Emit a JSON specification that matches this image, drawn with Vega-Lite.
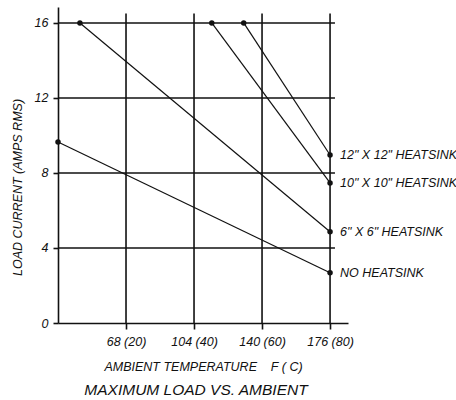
{
  "$schema": "https://vega.github.io/schema/vega-lite/v6.json",
  "autosize": {"type": "none"},
  "width": 290,
  "height": 316,
  "padding": {"left": 58, "top": 7, "right": 108, "bottom": 77},
  "background": "white",
  "config": {
    "view": {"stroke": null},
    "font": "Liberation Sans",
    "axis": {"grid": false, "domainColor": "#111", "domainWidth": 1.6, "tickColor": "#111", "tickWidth": 1.6, "tickSize": 6, "labelFont": "Liberation Sans", "labelFontStyle": "italic", "labelFontSize": 12.5, "labelColor": "#111", "titleFont": "Liberation Sans", "titleFontStyle": "italic", "titleFontWeight": "normal", "titleFontSize": 12.5, "titleColor": "#111"}
  },
  "title": {"text": "MAXIMUM LOAD VS. AMBIENT", "orient": "bottom", "anchor": "middle", "fontSize": 15.5, "fontStyle": "italic", "fontWeight": "normal", "font": "Liberation Sans", "color": "#111", "offset": 10, "dx": -7},
  "datasets": {
    "curves": [
      {"s": "NO HEATSINK", "t": 32, "a": 9.65},
      {"s": "NO HEATSINK", "t": 176, "a": 2.68},
      {"s": "6\" X 6\" HEATSINK", "t": 43.6, "a": 16},
      {"s": "6\" X 6\" HEATSINK", "t": 176, "a": 4.87},
      {"s": "10\" X 10\" HEATSINK", "t": 113.4, "a": 16},
      {"s": "10\" X 10\" HEATSINK", "t": 176, "a": 7.47},
      {"s": "12\" X 12\" HEATSINK", "t": 130.3, "a": 16},
      {"s": "12\" X 12\" HEATSINK", "t": 176, "a": 8.96}
    ],
    "labels": [
      {"s": "NO HEATSINK", "t": 176, "a": 2.68},
      {"s": "6\" X 6\" HEATSINK", "t": 176, "a": 4.87},
      {"s": "10\" X 10\" HEATSINK", "t": 176, "a": 7.47},
      {"s": "12\" X 12\" HEATSINK", "t": 176, "a": 8.96}
    ],
    "vgrid": [
      {"t": 68, "lo": 0, "hi": 16.5},
      {"t": 104, "lo": 0, "hi": 16.5},
      {"t": 140, "lo": 0, "hi": 16.5},
      {"t": 176, "lo": 0, "hi": 16.5}
    ],
    "hgrid": [
      {"a": 4, "lo": 32, "hi": 178.6},
      {"a": 8, "lo": 32, "hi": 178.6},
      {"a": 12, "lo": 32, "hi": 178.6},
      {"a": 16, "lo": 32, "hi": 178.6}
    ]
  },
  "layer": [
    {
      "data": {"name": "vgrid"},
      "mark": {"type": "rule", "color": "#111", "strokeWidth": 1.6},
      "encoding": {
        "x": {"field": "t", "type": "quantitative", "scale": {"domain": [32, 185.5], "nice": false, "zero": false},
          "axis": {"values": [68, 104, 140, 176], "labelExpr": "datum.value + ' (' + round((datum.value - 32) * 5 / 9) + ')'", "title": "AMBIENT TEMPERATURE \u00a0\u00a0\u00a0F ( C)", "labelPadding": 6, "titlePadding": 12.5}},
        "y": {"field": "lo", "type": "quantitative", "scale": {"domain": [0, 16.85], "nice": false},
          "axis": {"values": [0, 4, 8, 12, 16], "title": "LOAD CURRENT (AMPS RMS)", "tickSize": 5, "labelPadding": 5, "titlePadding": 10, "titleY": 180}},
        "y2": {"field": "hi"}
      }
    },
    {
      "data": {"name": "hgrid"},
      "mark": {"type": "rule", "color": "#111", "strokeWidth": 1.6},
      "encoding": {
        "y": {"field": "a", "type": "quantitative"},
        "x": {"field": "lo", "type": "quantitative"},
        "x2": {"field": "hi"}
      }
    },
    {
      "data": {"name": "curves"},
      "mark": {"type": "line", "color": "#111", "strokeWidth": 1.2},
      "encoding": {
        "x": {"field": "t", "type": "quantitative"},
        "y": {"field": "a", "type": "quantitative"},
        "detail": {"field": "s"}
      }
    },
    {
      "data": {"name": "curves"},
      "mark": {"type": "circle", "color": "#111", "opacity": 1, "size": 30},
      "encoding": {
        "x": {"field": "t", "type": "quantitative"},
        "y": {"field": "a", "type": "quantitative"}
      }
    },
    {
      "data": {"name": "labels"},
      "mark": {"type": "text", "align": "left", "baseline": "middle", "dx": 10, "fontSize": 12.5, "fontStyle": "italic", "font": "Liberation Sans", "color": "#111"},
      "encoding": {
        "x": {"field": "t", "type": "quantitative"},
        "y": {"field": "a", "type": "quantitative"},
        "text": {"field": "s"}
      }
    }
  ]
}
